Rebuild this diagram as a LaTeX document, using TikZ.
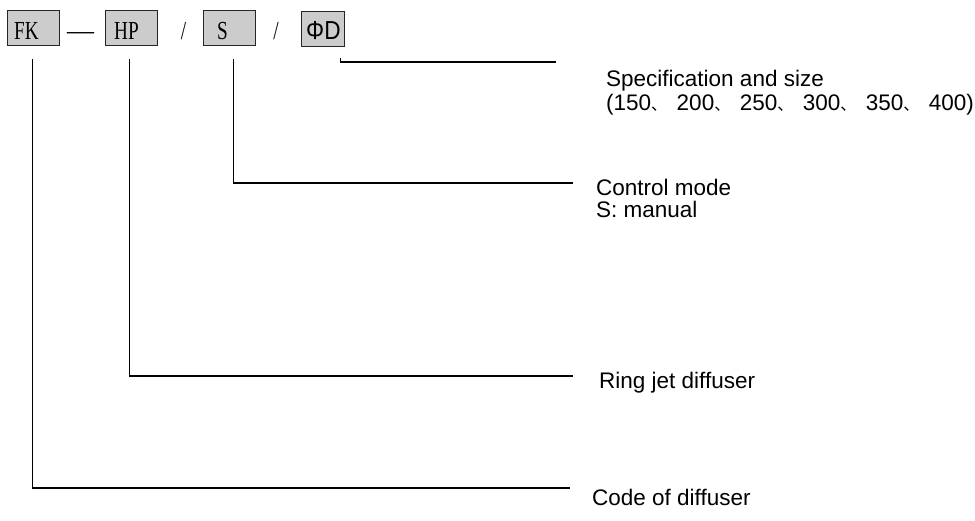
\documentclass[tikz,border=0pt]{standalone}
\usepackage{fontspec}
\setmainfont{Liberation Sans}
\newfontfamily\labfont{Liberation Sans}
\newfontfamily\ddfont[FakeStretch=0.87]{Liberation Sans}
\newfontfamily\boxfont[FakeStretch=0.74]{Liberation Serif}
\newfontfamily\dashfont{Liberation Serif}
\newfontfamily\cjk{Noto Sans CJK SC}
\newcommand\cjkcomma{{\cjk\fontsize{16}{16}\selectfont 、}\kern9.5pt}
\begin{document}
\begin{tikzpicture}[x=1pt,y=-1pt,
  codebox/.style={draw=black!85, fill=black!20, line width=1pt, inner sep=0pt,
    minimum width=52pt, minimum height=35pt, anchor=north west},
  boxtext/.style={inner sep=0pt, anchor=base west, font=\boxfont\fontsize{26}{26}\selectfont},
  sep/.style={inner sep=0pt, anchor=base, font=\boxfont\fontsize{26}{26}\selectfont},
  lab/.style={inner sep=0pt, anchor=base west, font=\labfont\fontsize{22.5}{23}\selectfont},
  conn/.style={draw=black, line width=1.4pt}]
\useasboundingbox (0,0) rectangle (975,520);
% code boxes
\node[codebox] (fk) at (7,10) {};
\node[codebox] (hp) at (105,10) {};
\node[codebox] (s) at (203,10) {};
\node[codebox, minimum width=43pt] (dd) at (301,11) {};
\node[boxtext] (tfk) at (14,39) {FK};
\node[boxtext] (thp) at (114,39) {HP};
\node[boxtext] (ts) at (217,39) {S};
\node[boxtext, font=\ddfont\fontsize{26}{26}\selectfont] (tdd) at (306,39) {ΦD};
% separators
\node[inner sep=0pt, anchor=base, font=\dashfont\fontsize{27}{27}\selectfont] (dash) at (80.5,39) {—};
\node[sep] (sl1) at (183.5,39) {/};
\node[sep] (sl2) at (276,39) {/};
% labels
\node[lab] (lspec) at (606,86) {Specification and size};
\node[lab] (lsizes) at (606,110) {(150\cjkcomma 200\cjkcomma 250\cjkcomma 300\cjkcomma 350\cjkcomma 400)};
\node[lab] (lctrl) at (596,195) {Control mode};
\node[lab] (lman) at (596,217) {S: manual};
\node[lab] (lring) at (599,388) {Ring jet diffuser};
\node[lab] (lcode) at (592,505) {Code of diffuser};
% line ends
\coordinate (eDD) at (556,62);
\coordinate (eS) at (573,183);
\coordinate (eHP) at (573,376);
\coordinate (eFK) at (570,488);
% connectors
\draw[conn] ([xshift=17.5pt,yshift=-11pt]dd.south) |- (eDD);
\draw[conn] ([xshift=4pt,yshift=-13pt]s.south) |- (eS);
\draw[conn] ([xshift=-2pt,yshift=-13pt]hp.south) |- (eHP);
\draw[conn] ([xshift=-1pt,yshift=-13pt]fk.south) |- (eFK);
\end{tikzpicture}
\end{document}
